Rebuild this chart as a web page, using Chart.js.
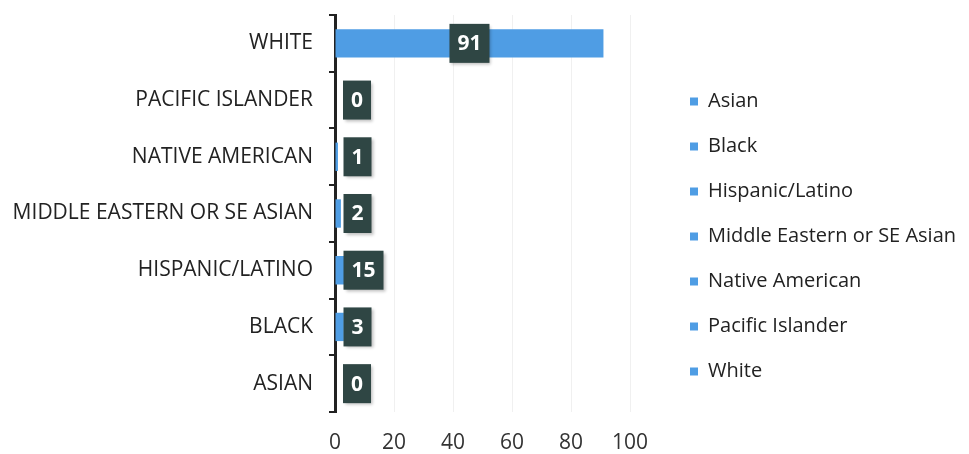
<!DOCTYPE html>
<html>
<head>
<meta charset="utf-8">
<script src="https://cdn.jsdelivr.net/npm/chart.js@4.4.1/dist/chart.umd.min.js"></script>
<style>
  html, body { margin: 0; padding: 0; background: #fff; }
  #wrap { width: 969px; height: 454px; }
</style>
</head>
<body>
<div id="wrap"><canvas id="chart"></canvas></div>
<script>
// Chart data
const categories = ['WHITE', 'PACIFIC ISLANDER', 'NATIVE AMERICAN', 'MIDDLE EASTERN OR SE ASIAN', 'HISPANIC/LATINO', 'BLACK', 'ASIAN'];
const legendLabels = ['White', 'Pacific Islander', 'Native American', 'Middle Eastern or SE Asian', 'Hispanic/Latino', 'Black', 'Asian'];
const counts = [91, 0, 1, 2, 15, 3, 0];
const xTicks = [0, 20, 40, 60, 80, 100];

const barColor = '#4f9de4';
const fontFamily = "'Open Sans', sans-serif";

// One dataset per category so each gets a legend entry; legend lists them bottom-up
let datasets = categories.map((cat, i) => {
    let data = categories.map((c, j) => (j === i ? counts[i] : null));
    return {
        label: legendLabels[i],
        data: data,
        backgroundColor: barColor,
        borderWidth: 0,
        barPercentage: 0.5,
        categoryPercentage: 1.0,
    };
});
datasets.reverse();

// Helper plugin to draw the dark value boxes
const valueBoxes = {
    id: 'valueBoxes',
    afterDatasetsDraw(chart) {
        const ctx = chart.ctx;
        ctx.save();
        ctx.font = "bold 21px " + fontFamily;
        ctx.textAlign = 'center';
        ctx.textBaseline = 'middle';
        chart.data.datasets.forEach((ds, di) => {
            const meta = chart.getDatasetMeta(di);
            ds.data.forEach((v, idx) => {
                if (v === null) return;
                const bar = meta.data[idx];
                const text = String(v);
                const w = ctx.measureText(text).width + 16;
                const h = 39;
                let cx = (bar.x + bar.base) / 2;
                cx = Math.max(cx, bar.base + 8 + w / 2);
                ctx.shadowColor = 'rgba(0,0,0,0.25)';
                ctx.shadowBlur = 3;
                ctx.shadowOffsetX = 2;
                ctx.shadowOffsetY = 2;
                ctx.fillStyle = '#2f4644';
                ctx.fillRect(cx - w / 2, bar.y - h / 2, w, h);
                ctx.shadowColor = 'transparent';
                ctx.fillStyle = '#ffffff';
                ctx.fillText(text, cx, bar.y + 1);
            });
        });
        ctx.restore();
    }
};

// Helper plugin: fixed legend width, then nudge the legend items into place
const legendPlace = {
    id: 'legendPlace',
    beforeInit(chart) {
        const fitLegend = chart.legend.fit;
        chart.legend.fit = function () {
            fitLegend.call(this);
            this.width = 339;
        };
    },
    afterLayout(chart) {
        const lg = chart.legend;
        lg.left += 35;
        lg.top += 2;
        lg.bottom += 2;
    }
};

new Chart(document.getElementById('chart'), {
    type: 'bar',
    data: {
        labels: categories,
        datasets: datasets,
    },
    options: {
        indexAxis: 'y',
        responsive: true,
        maintainAspectRatio: false,
        animation: false,
        layout: {
            padding: { top: 15, right: 0, bottom: 0, left: 0 },
        },
        scales: {
            y: {
                stacked: true,
                afterFit: (scale) => {
                    scale.width = 335;
                    scale.paddingTop = 0;
                    scale.paddingBottom = 0;
                },
                border: { color: '#222', width: 3 },
                grid: {
                    drawOnChartArea: false,
                    color: '#222',
                    lineWidth: 2,
                    tickLength: 6,
                },
                ticks: {
                    color: '#222',
                    padding: 16,
                    font: { family: fontFamily, size: 21 },
                },
            },
            x: {
                stacked: true,
                min: 0,
                max: 100,
                afterBuildTicks: (scale) => { scale.ticks = xTicks.map(v => ({ value: v })); },
                afterFit: (scale) => { scale.height = 42; },
                border: { display: false },
                grid: {
                    color: 'rgba(0,0,0,0.06)',
                    drawTicks: false,
                },
                ticks: {
                    color: '#333',
                    padding: 18,
                    font: { family: fontFamily, size: 21 },
                },
            },
        },
        plugins: {
            legend: {
                position: 'right',
                align: 'center',
                labels: {
                    boxWidth: 8,
                    boxHeight: 8,
                    padding: 25,
                    color: '#222',
                    font: { family: fontFamily, size: 20 },
                },
            },
            tooltip: { enabled: false },
        },
    },
    plugins: [valueBoxes, legendPlace],
});
</script>
</body>
</html>
